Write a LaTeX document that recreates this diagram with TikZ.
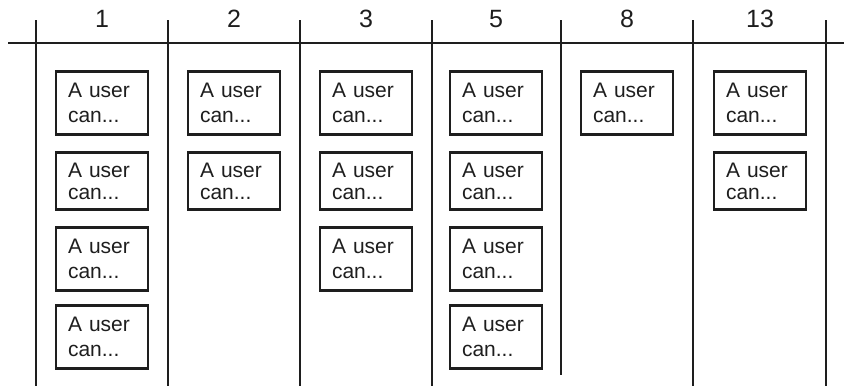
\documentclass[tikz,border=0pt]{standalone}
\usepackage{fontspec}
\setmainfont{Liberation Sans}
\usetikzlibrary{positioning}
\definecolor{ink}{HTML}{1E1E1E}
\newcommand{\storytext}{A user\\can...}

\begin{document}
\begin{tikzpicture}[x=1pt,y=-1pt,node distance=78pt,on grid,
	line width=1.6pt,draw=ink,
	story/.style={draw=ink,line width=2.9pt,minimum width=92pt,minimum height=63pt,
		text width=68pt,align=left,inner xsep=12pt,inner ysep=4pt,text=ink,
		font=\fontsize{21}{25}\selectfont},
	tight/.style={story,minimum height=57pt,font=\fontsize{21}{22}\selectfont},
	points/.style={text=ink,font=\fontsize{25}{30}\selectfont}]
\useasboundingbox (0,0) rectangle (844,386);
% board lines
\coordinate (left) at (8,43); \coordinate (right) at (844,43);
\coordinate (bottom) at (0,386); \coordinate (short) at (0,375);
\draw (left) -- (right);
\foreach \x [count=\i from 0] in {36,168,300,432,561,693,826}
	\coordinate (d\i) at (\x,20);
\foreach \i in {0,1,2,3,5,6} \draw (d\i) -- (d\i |- bottom);
\draw (d4) -- (d4 |- short);
% column 1
\node[points] (h1) at (102,19) {1};
\node[story] (a1) [below=84pt of h1] {\storytext};
\node[tight] (a2) [below=of a1] {\storytext};
\node[story] (a3) [below=of a2] {\storytext};
\node[story] (a4) [below=of a3] {\storytext};
% column 2
\node[points] (h2) at (234,19) {2};
\node[story] (b1) [below=84pt of h2] {\storytext};
\node[tight] (b2) [below=of b1] {\storytext};
% column 3
\node[points] (h3) at (366,19) {3};
\node[story] (c1) [below=84pt of h3] {\storytext};
\node[tight] (c2) [below=of c1] {\storytext};
\node[story] (c3) [below=of c2] {\storytext};
% column 5
\node[points] (h5) at (496,19) {5};
\node[story] (e1) [below=84pt of h5] {\storytext};
\node[tight] (e2) [below=of e1] {\storytext};
\node[story] (e3) [below=of e2] {\storytext};
\node[story] (e4) [below=of e3] {\storytext};
% column 8
\node[points] (h8) at (627,19) {8};
\node[story] (f1) [below=84pt of h8] {\storytext};
% column 13
\node[points] (h13) at (760,19) {13};
\node[story] (g1) [below=84pt of h13] {\storytext};
\node[tight] (g2) [below=of g1] {\storytext};
\end{tikzpicture}
\end{document}
